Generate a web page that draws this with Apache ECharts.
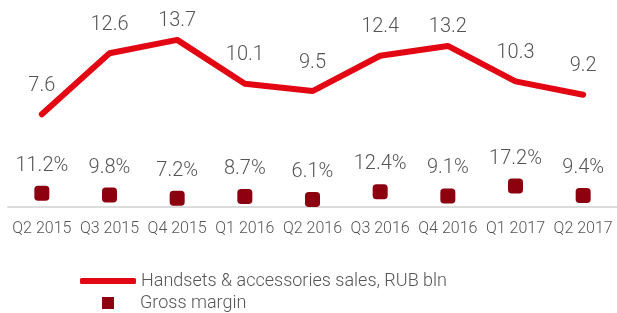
<!DOCTYPE html>
<html>
<head>
<meta charset="utf-8">
<script src="https://cdn.jsdelivr.net/npm/echarts@6/dist/echarts.min.js"></script>
<style>
  html, body { margin: 0; padding: 0; background: #fff; }
  #chart { width: 617px; height: 313px; }
</style>
</head>
<body>
<div id="chart"></div>
<script>
// quarters on the x axis
var quarters = ['Q2 2015', 'Q3 2015', 'Q4 2015', 'Q1 2016', 'Q2 2016', 'Q3 2016', 'Q4 2016', 'Q1 2017', 'Q2 2017']
// handsets & accessories sales, RUB bln
var sales = [7.6, 12.6, 13.7, 10.1, 9.5, 12.4, 13.2, 10.3, 9.2]
// gross margin, %
var margin = [11.2, 9.8, 7.2, 8.7, 6.1, 12.4, 9.1, 17.2, 9.4]

var font = 'Roboto'
var textGray = '#555555'

var chart = echarts.init(document.getElementById('chart'))

chart.setOption({
  animation: false,
  grid: {
    left: 8,
    right: 0,
    top: 24,
    bottom: 106
  },
  legend: [{
    data: [{ name: 'Handsets & accessories sales, RUB bln', icon: 'roundRect' }],
    left: 80,
    top: 272,
    padding: 0,
    itemWidth: 56,
    itemHeight: 6,
    textStyle: { fontFamily: font, fontWeight: 300, fontSize: 18, color: textGray }
  }, {
    data: [{ name: 'Gross margin', icon: 'rect' }],
    left: 102,
    top: 294,
    padding: 0,
    itemWidth: 12,
    itemHeight: 12,
    textStyle: { fontFamily: font, fontWeight: 300, fontSize: 18, color: textGray, padding: [0, 0, 0, 21] }
  }],
  xAxis: {
    type: 'category',
    data: quarters,
    axisTick: { show: false },
    axisLine: { lineStyle: { color: '#dcdcdc', width: 2 } },
    axisLabel: { interval: 0, fontFamily: font, fontWeight: 300, fontSize: 16, color: textGray, margin: 14 }
  },
  yAxis: [{
    type: 'value',
    min: 0,
    max: 15,
    show: false
  }, {
    type: 'value',
    min: 0,
    max: 150,
    show: false
  }],
  series: [{
    name: 'Handsets & accessories sales, RUB bln',
    type: 'line',
    yAxisIndex: 0,
    data: sales.map(function (v) {
      // the highest labels sit closer to the line in the source
      return v > 13 ? { value: v, label: { distance: 8 } } : v
    }),
    symbol: 'circle',
    symbolSize: 1,
    lineStyle: { color: '#e30613', width: 6, cap: 'round' },
    itemStyle: { color: '#e30613' },
    label: {
      show: true,
      position: 'top',
      distance: 18,
      fontFamily: font,
      fontWeight: 300,
      fontSize: 20,
      color: textGray,
      formatter: function (p) { return p.value.toFixed(1) }
    }
  }, {
    name: 'Gross margin',
    type: 'scatter',
    yAxisIndex: 1,
    data: margin,
    symbol: 'roundRect',
    symbolSize: 15,
    itemStyle: { color: '#8c0010', opacity: 1 },
    label: {
      show: true,
      position: 'top',
      distance: 10,
      fontFamily: font,
      fontWeight: 300,
      fontSize: 20,
      color: textGray,
      formatter: function (p) { return p.value.toFixed(1) + '%' }
    }
  }]
})
</script>
</body>
</html>
